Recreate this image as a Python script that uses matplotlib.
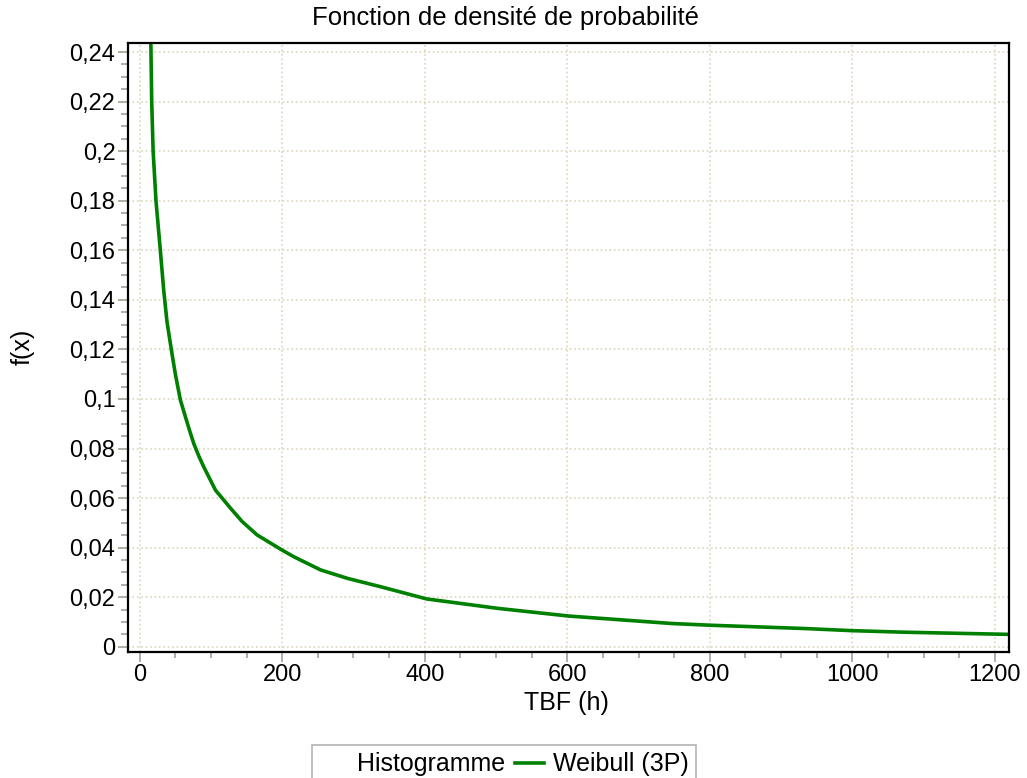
import matplotlib
matplotlib.use('Agg')
import matplotlib.pyplot as plt
from matplotlib.ticker import MultipleLocator, FuncFormatter
from matplotlib.lines import Line2D

plt.rcParams['font.family'] = ['Liberation Sans', 'DejaVu Sans']

# Valeurs (TBF en heures, densité f(x))
tbf = [15.5, 17, 19, 23, 29.1, 33.8, 38.5, 45.6, 50.2, 57.2, 66.7, 71.3, 76,
       83, 90, 106.5, 127.6, 144, 165, 188.5, 200, 216.6, 254, 291.7, 338.5,
       402.8, 502.5, 602, 746, 800, 929.6, 1000, 1070, 1220]
fx = [0.250, 0.220, 0.200, 0.180, 0.160, 0.144, 0.131, 0.118, 0.110, 0.0996,
      0.0905, 0.0862, 0.0820, 0.0770, 0.0726, 0.0632, 0.0559, 0.0505, 0.0451,
      0.0410, 0.0390, 0.0363, 0.0310, 0.0276, 0.0242, 0.0193, 0.0155, 0.0124,
      0.0094, 0.0087, 0.0074, 0.0065, 0.0059, 0.0050]

titre = 'Fonction de densité de probabilité'
label_x = 'TBF (h)'
label_y = 'f(x)'

fig = plt.figure(figsize=(10.27, 7.78), dpi=100)
ax = fig.add_axes([0.1246, 0.1623, 0.8579, 0.782])

ax.plot(tbf, fx, color='#008000', lw=2.6)

ax.set_xlim(-16.3, 1219.7)
ax.set_ylim(-0.002, 0.2435)

ax.xaxis.set_major_locator(MultipleLocator(200))
ax.xaxis.set_minor_locator(MultipleLocator(50))
ax.yaxis.set_major_locator(MultipleLocator(0.02))
ax.yaxis.set_minor_locator(MultipleLocator(0.005))
ax.yaxis.set_major_formatter(FuncFormatter(lambda v, p: ('%g' % round(v, 4)).replace('.', ',')))

ax.tick_params(which='major', direction='out', length=7, width=1.3, color='#a8a8a0',
               labelsize=17, pad=2)
ax.tick_params(which='minor', direction='out', length=5, width=1.3, color='#a8a8a0')
ax.tick_params(axis='x', which='minor', length=4)

ax.grid(True, which='major', linestyle=':', color='#dcd6bd', lw=1.2)
for s in ax.spines.values():
    s.set_linewidth(1.6)
    s.set_color('black')

fig.text(566 / 1027, 1 - 703 / 778, label_x, ha='center', va='center', fontsize=18)
fig.text(23 / 1027, 1 - 347 / 778, label_y, ha='center', va='center', fontsize=18,
         rotation=90)
fig.text(506 / 1027, 1 - 18 / 778, titre, ha='center', va='center', fontsize=18.5)

handles = [Line2D([], [], color='none'),
           Line2D([], [], color='#008000', lw=2.6)]
leg = fig.legend(handles, ['Histogramme', 'Weibull (3P)'], ncol=2, loc='upper center',
                 bbox_to_anchor=(504 / 1027, 1 - 745 / 778), borderaxespad=0,
                 fontsize=18, frameon=True, fancybox=False, edgecolor='#a0a0a0',
                 handlelength=1.15, handletextpad=0.34, columnspacing=0.42,
                 borderpad=0.3)
leg.get_frame().set_linewidth(1.2)

fig.savefig('out.png', dpi=100)
